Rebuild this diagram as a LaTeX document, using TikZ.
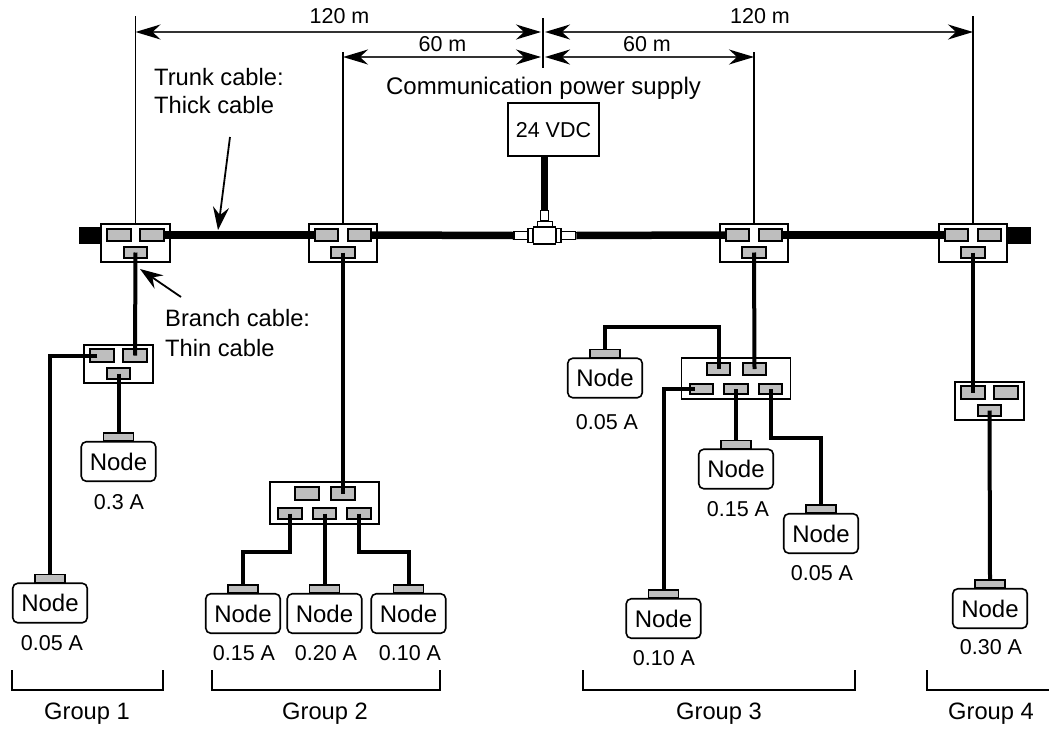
\documentclass[tikz,border=0pt]{standalone}
\usepackage{fontspec}
\setmainfont{Liberation Sans}
\usetikzlibrary{arrows.meta}
\definecolor{portgray}{HTML}{BEBEBE}
\tikzset{
    txt/.style={inner sep=0pt, font=\fontsize{21.5}{24}\selectfont},
    bigtxt/.style={inner sep=0pt, font=\fontsize{23.7}{26}\selectfont},
    tapbox/.style={draw, line width=1.8pt, fill=white, minimum width=68.5pt, minimum height=38.5pt, inner sep=0pt},
    widebox/.style={draw, line width=1.7pt, fill=white, minimum width=109pt, minimum height=41.5pt, inner sep=0pt},
    port/.style={draw, line width=1.8pt, fill=portgray, minimum width=23.5pt, minimum height=12.5pt, inner sep=0pt},
    lowport/.style={port, minimum height=10.5pt},
    nodebox/.style={draw, line width=1.6pt, fill=white, rounded corners=5pt, minimum width=74.5pt, minimum height=39.5pt, inner sep=0pt, font=\fontsize{24}{26}\selectfont},
    nodeport/.style={draw, line width=1.5pt, fill=portgray, minimum width=30pt, minimum height=8pt, inner sep=0pt},
    stub/.style={fill=black, minimum width=23pt, minimum height=17pt, inner sep=0pt},
    tee/.style={draw, line width=1.5pt, fill=white, inner sep=0pt},
    trunk/.style={line width=7.5pt},
    feed/.style={line width=7.5pt},
    wire/.style={line width=4pt},
    dimline/.style={line width=1.8pt},
    dimarrow/.style={line width=1.8pt, black!80, {Stealth[length=25pt,width=15pt,inset=8pt,black]}-{Stealth[length=25pt,width=15pt,inset=8pt,black]}},
    callout/.style={line width=1.8pt, -{Stealth[length=23pt,width=16pt,inset=8pt]}},
}
\begin{document}
\begin{tikzpicture}[x=1pt, y=-1pt]
    \useasboundingbox (0,0) rectangle (1049,728);

    % Trunk ends
    \node[stub] (stubL) at (90.5,235.5) {};
    \node[stub] (stubR) at (1019,235.5) {};

    % T-branch connector
    \node[tee, minimum width=8pt, minimum height=10pt] (teeTop) at (544.5,215.5) {};
    \node[tee, minimum width=15pt, minimum height=5pt] (teeCollar) at (545,224) {};
    \node[tee, minimum width=14pt, minimum height=8pt] (teeL) at (521,235.5) {};
    \node[tee, minimum width=14pt, minimum height=8pt] (teeR) at (568.5,235.5) {};
    \node[tee, minimum width=5pt, minimum height=14pt] (teeFL) at (530.5,235.5) {};
    \node[tee, minimum width=5pt, minimum height=14pt] (teeFR) at (558.5,235.5) {};
    \node[tee, minimum width=22pt, minimum height=17pt] (teeBody) at (544.5,235.5) {};

    % Trunk taps
    \foreach \name/\x in {tapA/135.5, tapB/343, tapC/754, tapD/973} {
        \node[tapbox] (\name) at (\x,243) {};
        \node[port] (\name a) at (\x-16.5,235) {};
        \node[port] (\name b) at (\x+16.5,235) {};
        \node[lowport] (\name c) at (\x,252.5) {};
    }

    % Branch taps with one lower port
    \foreach \name/\x/\y in {subA/118.5/364, subD/989.5/401} {
        \node[tapbox] (\name) at (\x,\y) {};
        \node[port] (\name a) at (\x-16.5,\y-8.5) {};
        \node[port] (\name b) at (\x+16.5,\y-8.5) {};
        \node[lowport] (\name c) at (\x,\y+9.5) {};
    }

    % Branch taps with three lower ports
    \foreach \name/\x/\y in {subB/324.5/503, subC/736/378.5} {
        \node[widebox] (\name) at (\x,\y) {};
        \node[port] (\name a) at (\x-17.5,\y-9.5) {};
        \node[port] (\name b) at (\x+18.5,\y-9.5) {};
        \node[lowport] (\name c) at (\x-34.5,\y+10.5) {};
        \node[lowport] (\name d) at (\x,\y+10.5) {};
        \node[lowport] (\name e) at (\x+34.5,\y+10.5) {};
    }

    % Nodes with their currents
    \foreach \name/\x/\y/\lx/\ly/\cur in {n1/50/603/52/643/0.05 A, n2/118.5/461.5/119/502/0.3 A, n3/243/613.5/244/653/0.15 A,
        n4/324.5/613.5/326/653/0.20 A, n5/408.5/613.5/410/653/0.10 A, n6/605/378/607/422/0.05 A,
        n7/663.5/618.5/664/658/0.10 A, n8/736/469/738/509/0.15 A, n9/821/533.5/822/573/0.05 A, n10/990/608.5/991/647/0.30 A} {
        \node[nodebox] (\name) at (\x,\y) {Node};
        \node[nodeport] (\name p) at (\x,\y-24.5) {};
        \node[txt] (\name cur) at (\lx,\ly) {\cur};
    }

    % Supply
    \node[draw, line width=1.6pt, fill=white, minimum width=91pt, minimum height=53pt, inner sep=0pt, font=\fontsize{21.5}{24}\selectfont] (vdc) at (553.5,129.7) {24 VDC};
    \node[bigtxt, font=\fontsize{24}{26}\selectfont] (vdcTitle) at (543.5,88) {Communication power supply};
    \draw[feed] (vdc.south -| teeTop) -- (teeTop.north);

    % Trunk cable
    \draw[trunk] (tapAb.east) -- (tapBa.west);
    \draw[trunk] (tapBb.east) -- (teeL.west);
    \draw[trunk] (teeR.east) -- (tapCa.west);
    \draw[trunk] (tapCb.east) -- (tapDa.west);

    % Branch cables
    \draw[wire] (tapAc.center) -- (subAb.center);
    \draw[wire] ([xshift=8pt]subAa.west) -| (n1p.north);
    \draw[wire] (subAc.center) -- (n2p.north);
    \draw[wire] (tapBc.center) -- (subBb.center);
    \draw[wire] (subBc.center) -- ++(0,38.5) -| (n3p.north);
    \draw[wire] (subBd.center) -- (n4p.north);
    \draw[wire] (subBe.center) -- ++(0,38.5) -| (n5p.north);
    \draw[wire] (tapCc.center) -- (subCb.center);
    \draw[wire] (subCa.center) -- ++(0,-42) -| (n6p.north);
    \draw[wire] ([xshift=6pt]subCc.west) -| (n7p.north);
    \draw[wire] (subCd.center) -- (n8p.north);
    \draw[wire] (subCe.center) -- ++(0,49) -| (n9p.north);
    \draw[wire] (tapDc.center) -- (subDa.center);
    \draw[wire] (subDc.center) -- (n10p.north);

    % Distances
    \coordinate (topMid) at (543,18);
    \coordinate (lowMid) at (543,68);
    \draw[dimline] (topMid) -- (lowMid);
    \foreach \name/\top in {tapA/16, tapB/52, tapC/52, tapD/16} {
        \coordinate (\name top) at (\name |- 0,\top);
        \draw[dimline] (\name.north) -- (\name top);
    }
    \draw[dimarrow] (tapAtop |- 0,32) -- (541,32);
    \draw[dimarrow] (tapBtop |- 0,57) -- (541,57);
    \draw[dimarrow] (545,57) -- (tapCtop |- 0,57);
    \draw[dimarrow] (545,32) -- (tapDtop |- 0,32);
    \node[txt] (distA) at (339.5,16) {120 m};
    \node[txt] (distB) at (442.5,44) {60 m};
    \node[txt] (distC) at (647,44) {60 m};
    \node[txt] (distD) at (760,16) {120 m};

    % Cable callouts
    \node[bigtxt, anchor=west] (trunkA) at (154,77) {Trunk cable:};
    \node[bigtxt, anchor=west] (trunkB) at (154,105) {Thick cable};
    \node[bigtxt, anchor=west] (branchA) at (165,318) {Branch cable:};
    \node[bigtxt, anchor=west] (branchB) at (165,348) {Thin cable};
    \coordinate (trunkTail) at (230,137);
    \coordinate (trunkTip) at (218,230);
    \coordinate (branchTail) at (181,297);
    \coordinate (branchTip) at (140,269);
    \draw[callout] (trunkTail) -- (trunkTip);
    \draw[callout] (branchTail) -- (branchTip);

    % Group brackets
    \foreach \xa/\xb/\xc/\lab in {12/163/87/Group 1, 212/440/325/Group 2, 583/855/719/Group 3} {
        \draw[line width=1.6pt] (\xa,670) -- (\xa,690) -- (\xb,690) -- (\xb,670);
        \node[bigtxt] at (\xc,714) {\lab};
    }
    \draw[line width=1.6pt] (927,670) -- (927,690) -- (1049,690);
    \node[bigtxt] at (991,714) {Group 4};
\end{tikzpicture}
\end{document}
